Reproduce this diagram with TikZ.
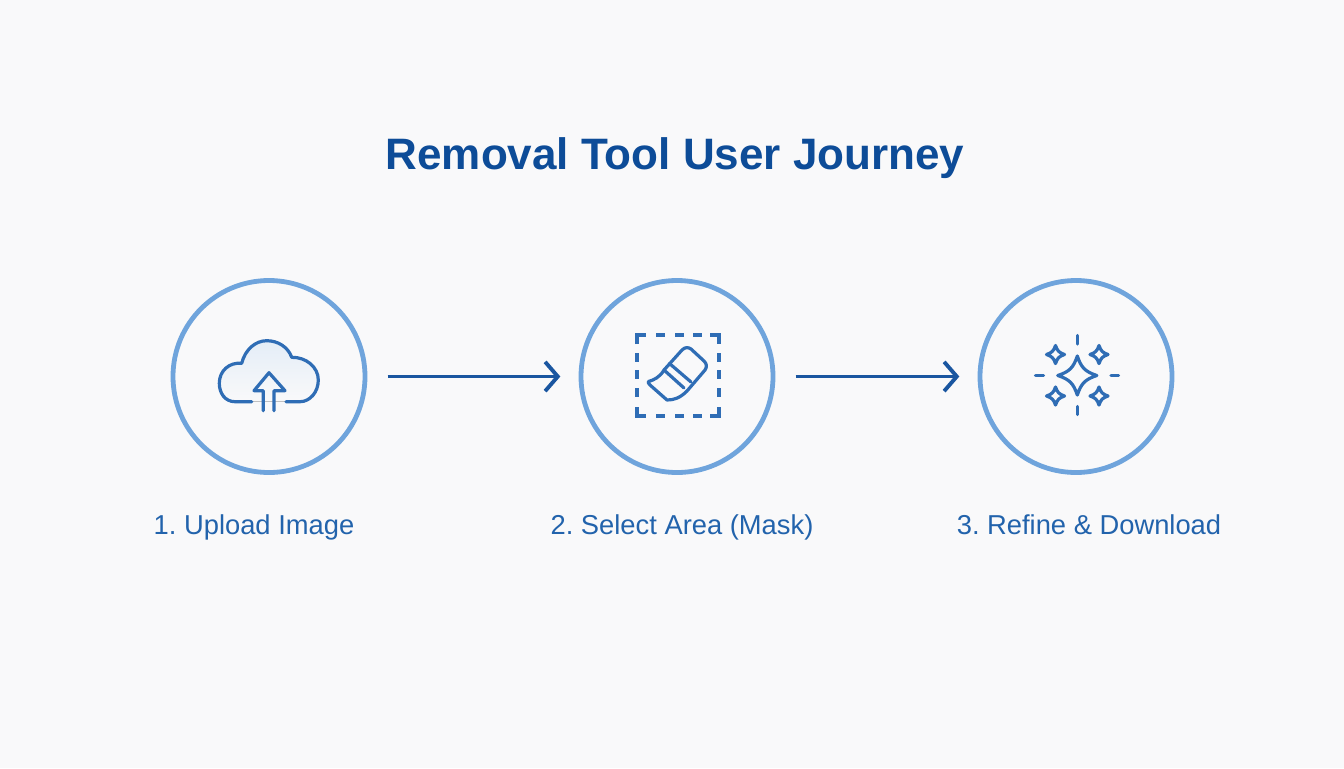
\documentclass[tikz,border=0pt]{standalone}
\usepackage{fontspec}
\setmainfont{Liberation Sans}
\usetikzlibrary{arrows.meta}
\definecolor{bgc}{HTML}{F9F9FA}
\definecolor{ringc}{HTML}{6FA4DC}
\definecolor{darkc}{HTML}{1A56A0}
\definecolor{titlec}{HTML}{0D4C98}
\definecolor{iconc}{HTML}{2F6DB5}
\definecolor{labelc}{HTML}{2263AC}
\definecolor{cloudc}{HTML}{E4EDF7}
\tikzset{
  ring/.style={circle,draw=ringc,line width=3.6pt,minimum size=192*0.75pt,inner sep=0pt,outer sep=0pt},
  flow/.style={draw=darkc,line width=2.9pt,shorten <=17pt,shorten >=15.5pt,-{Straight Barb[length=9.5pt,width=22pt,line width=2.9pt]}},
  icon/.style={draw=iconc,line width=2.4pt,line cap=round,line join=round},
  dashpart/.style={draw=iconc,line width=3pt,line cap=butt,line join=miter},
  steplabel/.style={text=labelc,font=\fontsize{20.5pt}{24pt}\selectfont\frenchspacing,inner sep=0pt,anchor=base},
  titletext/.style={text=titlec,font=\fontsize{33pt}{40pt}\selectfont\bfseries,inner sep=0pt,anchor=base}
}
\begin{document}
\begin{tikzpicture}[x=0.75pt,y=-0.75pt]
\useasboundingbox (0,0) rectangle (1344,768);
\fill[bgc] (0,0) rectangle (1344,768);
\node[titletext] (title) at (675,169.5) {Removal Tool User Journey};
\node[ring] (c1) at (269,376.5) {};
\node[ring] (c2) at (677,376.5) {};
\node[ring] (c3) at (1076,376.5) {};
\draw[flow] (c1) -- (c2);
\draw[flow] (c2) -- (c3);
\node[steplabel] (l1) at (254,534) {1. Upload Image};
\node[steplabel] (l2) at (682,534) {2. Select Area (Mask)};
\node[steplabel] (l3) at (1089,534) {3. Refine \& Download};
% cloud
\fill[top color=cloudc,bottom color=bgc]
  (235,401.7) .. controls (225,401.7) and (219.3,393) .. (219.3,383.3)
  .. controls (219.3,371) and (229,362) .. (241.7,363.3)
  .. controls (245,350) and (255,340.7) .. (266.7,340.7)
  .. controls (278,340.7) and (288,347) .. (291.7,357.3)
  .. controls (306,357) and (318.3,367) .. (318.3,380)
  .. controls (318.3,392) and (310,401.7) .. (300,401.7) -- cycle;
\draw[icon] (251.7,401.7) -- (235,401.7) .. controls (225,401.7) and (219.3,393) .. (219.3,383.3)
  .. controls (219.3,371) and (229,362) .. (241.7,363.3)
  .. controls (245,350) and (255,340.7) .. (266.7,340.7)
  .. controls (278,340.7) and (288,347) .. (291.7,357.3)
  .. controls (306,357) and (318.3,367) .. (318.3,380)
  .. controls (318.3,392) and (310,401.7) .. (300,401.7) -- (286,401.7);
\draw[icon] (263.3,410.7) -- (263.3,390.7) -- (254,390.7) -- (269,372.7) -- (285,390.7) -- (274,390.7) -- (274,410.7);
% dashed selection
\draw[dashpart] (636.7,344) -- (636.7,335) -- (646,335);
\draw[dashpart] (710,335) -- (719.3,335) -- (719.3,344);
\draw[dashpart] (636.7,407) -- (636.7,416) -- (646,416);
\draw[dashpart] (710,416) -- (719.3,416) -- (719.3,407);
\foreach \a/\b in {656/665,675/684,693/702}{
  \draw[dashpart] (\a,335) -- (\b,335);
  \draw[dashpart] (\a,416) -- (\b,416);
}
\foreach \a/\b in {353/362,370/379,388/397}{
  \draw[dashpart] (636.7,\a) -- (636.7,\b);
  \draw[dashpart] (719.3,\a) -- (719.3,\b);
}
% eraser
\draw[icon] (648.5,381.5) .. controls (654,380) and (660,377) .. (664,370)
  -- (682,350) .. controls (685,347) and (688,347) .. (691,349)
  -- (704,361) .. controls (707,364) and (707,367) .. (705,370)
  -- (687,391) .. controls (680,398) and (674,400) .. (667,400)
  -- (650,385) .. controls (648,383.5) and (648,382) .. (648.5,381.5) -- cycle;
\draw[icon] (664,370) -- (684,388);
\draw[icon] (669.5,363.5) -- (691,382);
% sparkles
\newcommand{\sparkle}[3]{%
  \draw[icon] (#1-#3,#2) .. controls (#1-#3*0.4,#2-#3*0.2) and (#1-#3*0.2,#2-#3*0.4) .. (#1,#2-#3)
   .. controls (#1+#3*0.2,#2-#3*0.4) and (#1+#3*0.4,#2-#3*0.2) .. (#1+#3,#2)
   .. controls (#1+#3*0.4,#2+#3*0.2) and (#1+#3*0.2,#2+#3*0.4) .. (#1,#2+#3)
   .. controls (#1-#3*0.2,#2+#3*0.4) and (#1-#3*0.4,#2+#3*0.2) .. (#1-#3,#2) -- cycle;}
\sparkle{1077.3}{375.5}{19.5}
\sparkle{1055.5}{354.5}{9}
\sparkle{1099}{354.5}{9}
\sparkle{1055.5}{396}{9}
\sparkle{1099}{396}{9}
\draw[icon] (1077.3,335.5) -- (1077.3,344);
\draw[icon] (1077.3,406.5) -- (1077.3,414.5);
\draw[icon] (1035.5,375.5) -- (1043.5,375.5);
\draw[icon] (1111,375.5) -- (1118.5,375.5);
\end{tikzpicture}
\end{document}
